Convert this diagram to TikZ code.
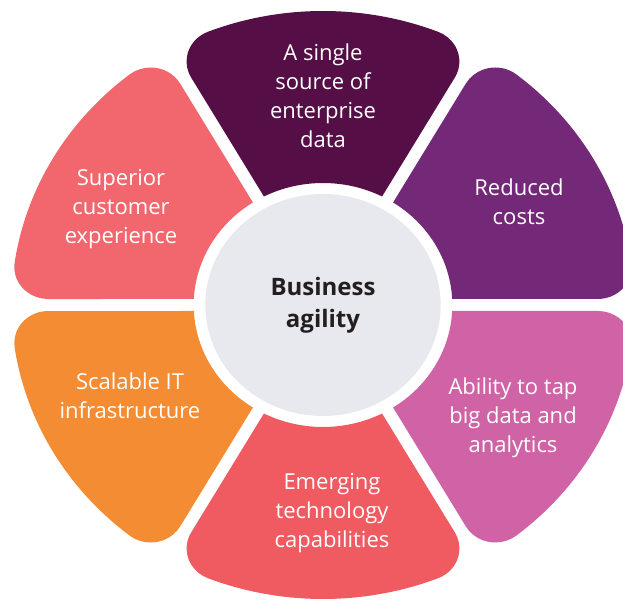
\documentclass[tikz,border=0pt]{standalone}
\usepackage{fontspec}
\setmainfont{Open Sans}
\usetikzlibrary{shapes.geometric}
\definecolor{cTop}{HTML}{560E46}
\definecolor{cRed}{HTML}{732878}
\definecolor{cAbi}{HTML}{CF63A6}
\definecolor{cEme}{HTML}{F05A61}
\definecolor{cSca}{HTML}{F48C33}
\definecolor{cSup}{HTML}{F1676D}
\definecolor{cHub}{HTML}{E8E9EE}
\definecolor{cHubText}{HTML}{231F20}
\newcommand\drawpetal[2]{%
  \fill[#2,shift={(323,294)},xscale=1.06,rotate=#1]
    (62.82:122) -- (61.33:259.30)
    arc[start angle=-30,end angle=68.34,radius=32]
    arc[start angle=68.34,end angle=111.66,radius=294]
    arc[start angle=111.66,end angle=210,radius=32]
    -- (117.18:122)
    arc[start angle=117.18,end angle=62.82,radius=122]
    -- cycle;}
\begin{document}
\begin{tikzpicture}[x=1pt,y=1pt,
  lbl/.style={align=center,text=white,inner sep=0pt,font=\fontsize{22}{29}\selectfont},
  hub/.style={ellipse,fill=cHub,minimum width=235.4pt,minimum height=222pt,inner sep=0pt,
    align=center,text=cHubText,font=\fontsize{24}{32}\selectfont\bfseries}]
\useasboundingbox (0,0) rectangle (623,599);
\clip (0,0) rectangle (623,599);
\fill[white] (0,0) rectangle (623,599);
\drawpetal{0}{cTop}
\drawpetal{-60}{cRed}
\drawpetal{-120}{cAbi}
\drawpetal{180}{cEme}
\drawpetal{120}{cSca}
\drawpetal{60}{cSup}
\node[hub] (hubnode) at (323,294) {Business\\agility};
\node[lbl] (ttop) at (323,503.5) {A single\\source of\\enterprise\\data};
\node[lbl] (tred) at (519,397) {Reduced\\costs};
\node[lbl] (tabi) at (513,181) {Ability to tap\\big data and\\analytics};
\node[lbl] (teme) at (332,86) {Emerging\\technology\\capabilities};
\node[lbl] (tsca) at (130,203) {Scalable IT\\infrastructure};
\node[lbl] (tsup) at (121,390) {Superior\\customer\\experience};
\end{tikzpicture}
\end{document}
